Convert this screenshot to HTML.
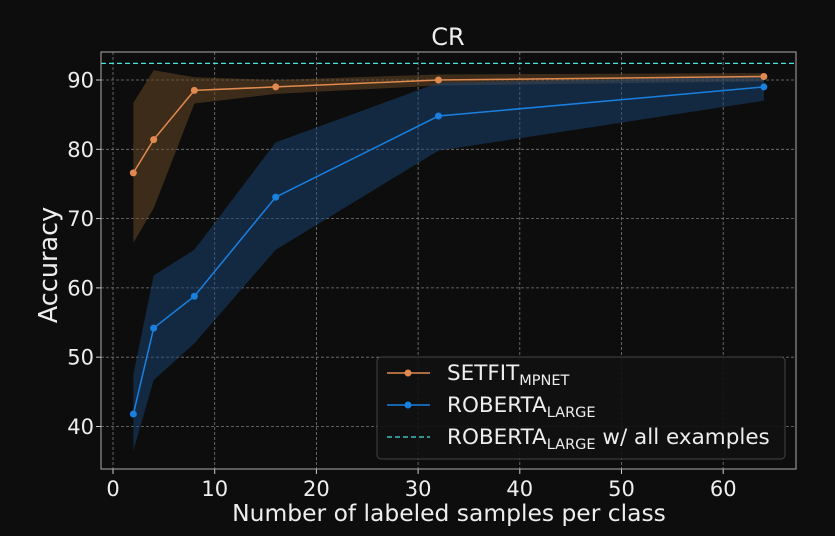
<!DOCTYPE html>
<html><head><meta charset="utf-8"><style>
body{margin:0;background:#0d0d0d;}
svg{display:block;font-family:"DejaVu Sans","Liberation Sans",sans-serif;}
</style></head><body>
<svg id="chart" width="835" height="536">
<rect width="835" height="536" fill="#0d0d0d"/>
</svg>
<script>
const xs=[2,4,8,16,32,64];
const setfitMean=[76.6,81.4,88.5,89.0,90.0,90.5];
const setfitUpper=[86.7,91.4,90.4,90.0,90.8,91.0];
const setfitLower=[66.5,71.5,86.6,88.0,89.2,89.8];
const robMean=[41.8,54.2,58.8,73.1,84.8,89.0];
const robUpper=[47.5,61.8,65.5,81.0,89.6,90.5];
const robLower=[36.5,46.7,52.0,65.5,79.8,87.0];
const fullValue=[92.4];
const xTicks=[0,10,20,30,40,50,60];
const yTicks=[40,50,60,70,80,90];
const NS='http://www.w3.org/2000/svg';
const svg=document.getElementById('chart');
const X=v=>113+v*10.17, Y=v=>80-(v-90)*6.93;
function el(t,a,p){const e=document.createElementNS(NS,t);for(const k in a)e.setAttribute(k,a[k]);(p||svg).appendChild(e);return e;}
xTicks.forEach(t=>{
 const g=el('line',{x1:X(t),x2:X(t),y1:52,y2:469,stroke:'#7a7a7a','stroke-dasharray':'3,2','stroke-width':0.8});
 
 
 el('line',{x1:X(t),x2:X(t),y1:469,y2:474,stroke:'#ccc'});
 const tx=el('text',{x:X(t),y:496,'text-anchor':'middle',fill:'#eee','font-size':21});tx.textContent=t;
 
 
});
yTicks.forEach(t=>{
 const g=el('line',{x1:101,x2:796,y1:Y(t),y2:Y(t),stroke:'#7a7a7a','stroke-dasharray':'3,2','stroke-width':0.8});
 
 
 el('line',{x1:96,x2:101,y1:Y(t),y2:Y(t),stroke:'#ccc'});
 const tx=el('text',{x:94,y:Y(t)+7.5,'text-anchor':'end',fill:'#eee','font-size':21});tx.textContent=t;
 
 
});
function band(u,l,c,name){const pts=xs.map((x,i)=>X(x)+','+Y(u[i])).concat(xs.map((x,i)=>X(x)+','+Y(l[i])).reverse());
 const p=el('polygon',{points:pts.join(' '),fill:c});
 
 }
band(setfitUpper,setfitLower,'rgba(110,75,40,0.5)','setfit-band');
band(robUpper,robLower,'rgba(25,70,120,0.5)','roberta-band');
const dl=el('line',{x1:101,x2:796,y1:Y(fullValue[0]),y2:Y(fullValue[0]),stroke:'#4ee0e0','stroke-dasharray':'5,3','stroke-width':1.3});


function series(m,c,name){
 const p=el('polyline',{points:xs.map((x,i)=>X(x)+','+Y(m[i])).join(' '),fill:'none',stroke:c,'stroke-width':1.5});
 
 
 xs.forEach((x,i)=>{const d=el('circle',{cx:X(x),cy:Y(m[i]),r:3.5,fill:c});
  
  });
}
series(setfitMean,'#e08a50','setfit');
series(robMean,'#1a80e0','roberta');
const fr=el('rect',{x:101,y:52,width:695,height:417,fill:'none',stroke:'#aaa','stroke-width':1});


const tt=el('text',{x:448,y:45,'text-anchor':'middle',fill:'#eee','font-size':24});tt.textContent='CR';


const xl=el('text',{x:449,y:521,'text-anchor':'middle',fill:'#eee','font-size':23.4});xl.textContent='Number of labeled samples per class';


const yl=el('text',{x:0,y:0,'text-anchor':'middle',fill:'#eee','font-size':25.5,transform:'translate(57,265) rotate(-90)'});yl.textContent='Accuracy';


const lg=el('g',{});


el('rect',{x:377,y:357,width:408,height:102,rx:4,fill:'#111','fill-opacity':0.9,stroke:'#444'},lg);
const entries=[['#e08a50','SETFIT','MPNET','',false],['#1a80e0','ROBERTA','LARGE','',false],['#4ee0e0','ROBERTA','LARGE',' w/ all examples',true]];
entries.forEach((e,i)=>{const y=373+i*32;
 const g=el('g',{},lg);
 
 
 if(e[4])el('line',{x1:387,x2:430,y1:y,y2:y,stroke:e[0],'stroke-dasharray':'5,3','stroke-width':1.3},g);
 else{el('line',{x1:387,x2:430,y1:y,y2:y,stroke:e[0],'stroke-width':1.5},g);el('circle',{cx:408,cy:y,r:3.5,fill:e[0]},g);}
 const t=el('text',{x:447,y:y+7,fill:'#eee','font-size':21.5},g);
 t.appendChild(document.createTextNode(e[1]));
 const s=el('tspan',{'font-size':14.5,dy:5},t);s.textContent=e[2];
 if(e[3]){const s2=el('tspan',{dy:-5},t);s2.textContent=e[3];}
});
</script>
</body></html>
